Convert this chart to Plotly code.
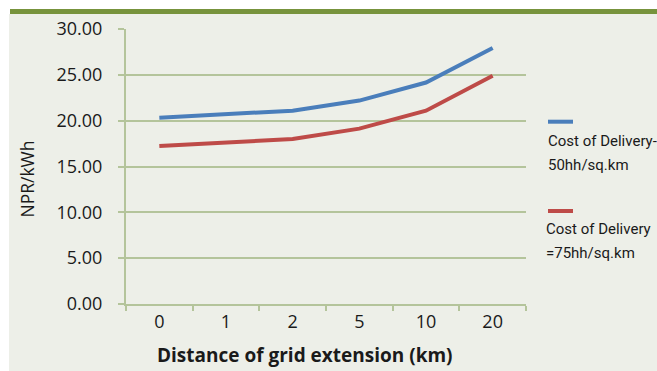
import plotly.graph_objects as go

# Distance of grid extension (km) – category labels on the x axis
distances = ["0", "1", "2", "5", "10", "20"]

# Cost of delivery (NPR/kWh) for two household densities
cost_50hh = [20.33, 20.70, 21.09, 22.19, 24.16, 27.92]
cost_75hh = [17.23, 17.60, 18.00, 19.13, 21.09, 24.89]

series_names = [["Cost of Delivery-", "50hh/sq.km"], ["Cost of Delivery", "=75hh/sq.km"]]
y_ticks = [0, 5, 10, 15, 20, 25, 30]

BLUE = "#4A7EBB"
RED = "#BE4B48"
GRID = "#B4C49B"
PANEL = "#EDEFE8"
BAND = "#77933C"
TXT = "#1A1A1A"

W, H = 657, 371
L, R, T, B = 126, 131, 29, 67
pw, ph = W - L - R, H - T - B


def px_x(px):
    return (px - L) / pw


def px_y(py):
    return (H - B - py) / ph


fig = go.Figure()
for vals, color in [(cost_50hh, BLUE), (cost_75hh, RED)]:
    fig.add_trace(go.Scatter(
        x=distances, y=vals, mode="lines",
        line=dict(color=color, width=4),
        showlegend=False, hoverinfo="skip",
    ))

shapes = [
    # panel background and header rule
    dict(type="rect", xref="paper", yref="paper", layer="below",
         x0=px_x(9), x1=px_x(W + 5), y0=px_y(H + 5), y1=px_y(14),
         fillcolor=PANEL, line_width=0),
    dict(type="rect", xref="paper", yref="paper", layer="below",
         x0=px_x(10), x1=px_x(W + 5), y0=px_y(14), y1=px_y(9),
         fillcolor=BAND, line_width=0),
]

annotations = []
# legend entries: swatch above two lines of text
for lines, color, sw_y, txt_x, line_ys in [
    (series_names[0], BLUE, 121.7, 546, (141, 164.5)),
    (series_names[1], RED, 211, 544, (229, 252.5)),
]:
    shapes.append(dict(type="line", xref="paper", yref="paper",
                       x0=px_x(548), x1=px_x(573), y0=px_y(sw_y), y1=px_y(sw_y),
                       line=dict(color=color, width=4)))
    for text, ly in zip(lines, line_ys):
        annotations.append(dict(
            xref="paper", yref="paper", x=px_x(txt_x), y=px_y(ly),
            xanchor="left", yanchor="middle", align="left", showarrow=False,
            text=text, font=dict(family="Roboto", size=15, color=TXT),
        ))

annotations.append(dict(
    xref="paper", yref="paper", x=px_x(305), y=px_y(355),
    xanchor="center", yanchor="middle", showarrow=False,
    text="<b>Distance of grid extension (km)</b>",
    font=dict(family="Open Sans", size=19, color=TXT),
))
annotations.append(dict(
    xref="paper", yref="paper", x=px_x(26), y=px_y(179.5),
    xanchor="center", yanchor="middle", showarrow=False, textangle=-90,
    text="NPR/kWh",
    font=dict(family="Open Sans", size=17.5, color=TXT),
))

fig.update_layout(
    width=W, height=H,
    margin=dict(l=L, r=R, t=T, b=B, pad=0),
    paper_bgcolor="white", plot_bgcolor=PANEL,
    shapes=shapes, annotations=annotations,
    font=dict(family="Open Sans", size=18, color=TXT),
)
fig.update_xaxes(
    type="category", range=[-0.5, len(distances) - 0.5], tickson="boundaries",
    ticks="outside", ticklen=5, tickwidth=1.5, tickcolor=GRID,
    showline=True, linecolor=GRID, linewidth=2,
    showgrid=False, zeroline=False,
    tickfont=dict(family="Open Sans", size=18, color=TXT),
)
fig.update_yaxes(
    range=[0, 30], tickvals=y_ticks, ticktext=[f"{v:.2f}" for v in y_ticks],
    ticks="outside", ticklen=6, tickwidth=1.5, tickcolor=GRID,
    ticklabelstandoff=12,
    showline=True, linecolor=GRID, linewidth=2,
    showgrid=True, gridcolor=GRID, gridwidth=1.5, zeroline=False,
    tickfont=dict(family="Open Sans", size=18, color=TXT),
)

fig.write_html("out.html")
